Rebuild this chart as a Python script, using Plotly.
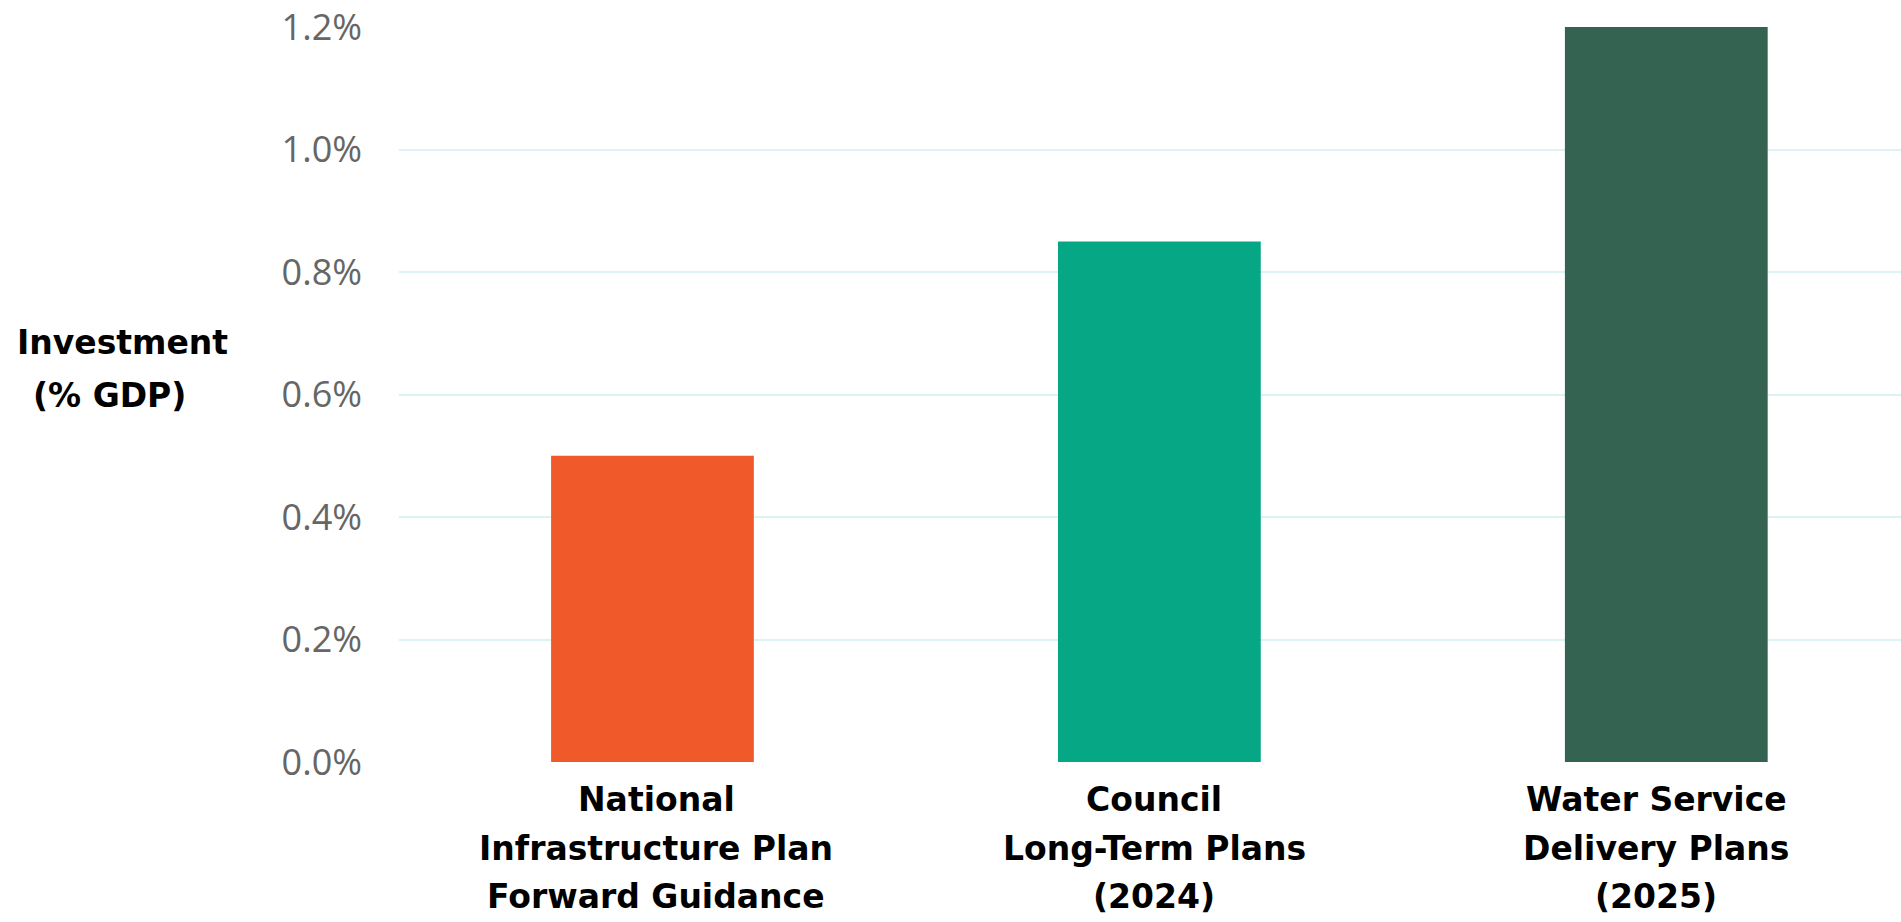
import plotly.graph_objects as go

categories = [
    "National<br>Infrastructure Plan<br>Forward Guidance",
    "Council<br>Long-Term Plans<br>(2024)",
    "Water Service<br>Delivery Plans<br>(2025)",
]
investment_pct_gdp = [0.50, 0.85, 1.20]
bar_colors = ["#F05A2A", "#06A784", "#346352"]
y_ticks = [0.0, 0.2, 0.4, 0.6, 0.8, 1.0, 1.2]
y_tick_labels = ["0.0%", "0.2%", "0.4%", "0.6%", "0.8%", "1.0%", "1.2%"]
y_title_lines = ["Investment", "(% GDP)"]

LABEL_FONT = dict(family="DejaVu Sans, sans-serif", size=33, color="#000000", weight="bold")
LINE_STEP = 48.5  # px between lines of the category labels
LABEL_NUDGE = [4, -5, -10]  # small horizontal offsets of the category labels, px

fig = go.Figure(
    go.Bar(
        x=categories,
        y=investment_pct_gdp,
        marker=dict(color=bar_colors, line=dict(width=0)),
        hoverinfo="skip",
    )
)

fig.update_layout(
    width=1901,
    height=922,
    paper_bgcolor="white",
    plot_bgcolor="white",
    margin=dict(l=399, r=0, t=27, b=160),
    bargap=0.6,
    showlegend=False,
)

fig.update_xaxes(
    range=[-0.5, 2.463],
    showgrid=False,
    showline=False,
    zeroline=False,
    ticks="",
    showticklabels=False,
)

fig.update_yaxes(
    range=[0, 1.2],
    tickvals=y_ticks,
    ticktext=y_tick_labels,
    showgrid=True,
    gridcolor="#DDF2F2",
    gridwidth=2,
    zeroline=False,
    showline=False,
    ticks="",
    ticklabelstandoff=36,
    tickfont=dict(family="Open Sans, sans-serif", size=36, color="#666666"),
)

# multi-line category labels under each bar, one annotation per line
for cat, nudge in zip(categories, LABEL_NUDGE):
    for i, line in enumerate(cat.split("<br>")):
        fig.add_annotation(
            text=line,
            x=cat,
            xref="x",
            y=0,
            yref="paper",
            xanchor="center",
            yanchor="top",
            xshift=nudge,
            yshift=-(17 + i * LINE_STEP),
            showarrow=False,
            borderpad=0,
            font=LABEL_FONT,
        )

# horizontal y-axis title on the left
for i, line in enumerate(y_title_lines):
    fig.add_annotation(
        text=line,
        x=-0.1844,
        xref="paper",
        y=0.571,
        yref="paper",
        xanchor="center",
        yanchor="middle",
        xshift=-13 * i,
        yshift=-i * 53,
        showarrow=False,
        font=LABEL_FONT,
    )

fig.write_html("out.html")
